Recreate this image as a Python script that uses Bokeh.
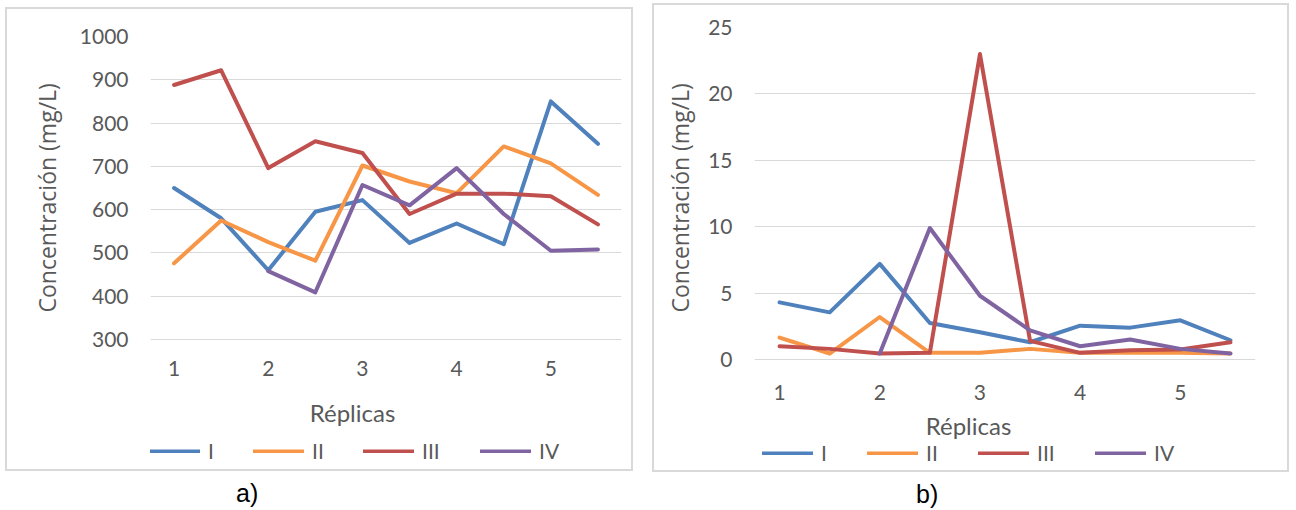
import math
from bokeh.plotting import figure
from bokeh.models import (ColumnDataSource, Legend, LegendItem, Div, Spacer,
                          FixedTicker, Range1d, Title, Label)
from bokeh.layouts import row, column
from bokeh.embed import file_html
from bokeh.resources import INLINE

nan = float("nan")

# ---------------- data ----------------
replicas = [1, 1.5, 2, 2.5, 3, 3.5, 4, 4.5, 5, 5.5]
x_ticks = [1, 2, 3, 4, 5]
x_tick_labels = ["1", "2", "3", "4", "5"]
series_names = ["I", "II", "III", "IV"]
colors = ["#4F81BD", "#F79646", "#C0504D", "#8064A2"]

a_I = [650, 580, 460, 595, 622, 523, 568, 520, 850, 752]
a_II = [476, 575, 525, 482, 702, 665, 638, 746, 707, 634]
a_III = [888, 922, 696, 758, 731, 590, 637, 637, 631, 566]
a_IV = [nan, nan, 458, 409, 657, 610, 696, 590, 505, 508]
a_yticks = [300, 400, 500, 600, 700, 800, 900, 1000]

b_I = [4.3, 3.55, 7.2, 2.75, 2.05, 1.3, 2.55, 2.4, 2.95, 1.45]
b_II = [1.65, 0.45, 3.2, 0.5, 0.5, 0.8, 0.5, 0.5, 0.5, 0.45]
b_III = [1.0, 0.8, 0.45, 0.5, 23.0, 1.4, 0.5, 0.7, 0.75, 1.3]
b_IV = [nan, nan, 0.45, 9.9, 4.8, 2.2, 1.0, 1.5, 0.8, 0.45]
b_yticks = [0, 5, 10, 15, 20, 25]

x_title = "Réplicas"
y_title = "Concentración (mg/L)"
captions = ["a)", "b)"]

TEXT = "#595959"
GRID = "#d9d9d9"
BORDER = 2


def make_chart(width, height, origin, frame_lr, top_px, bot_px, frame_bot_px,
               yticks, series, xtick_standoff, xtitle_px, ytitle_bottom_px,
               ytitle_standoff, legend_starts):
    ox, oy = origin[0] + BORDER, origin[1] + BORDER
    fl, fr = frame_lr
    mbl = fl - ox
    mbr = width - (fr - ox)
    mbt = top_px - oy
    mbb = height - (frame_bot_px - oy)
    ymin_t, ymax_t = yticks[0], yticks[-1]
    per_px = (ymax_t - ymin_t) / (bot_px - top_px)
    ymin = ymin_t - (frame_bot_px - bot_px) * per_px
    x0, x1 = 0.75, 5.75

    def px_x(px):
        return x0 + (px - fl) * (x1 - x0) / (fr - fl)

    def px_y(py):
        return ymin_t - (py - bot_px) * per_px

    p = figure(width=width, height=height, output_backend="svg",
               toolbar_location=None,
               x_range=Range1d(x0, x1), y_range=Range1d(ymin, ymax_t),
               min_border_left=mbl, min_border_right=mbr,
               min_border_top=mbt, min_border_bottom=mbb,
               styles={"border": "2px solid #d9d9d9",
                       "box-sizing": "border-box"})
    p.border_fill_color = None
    p.background_fill_color = None
    p.outline_line_color = None
    p.xgrid.grid_line_color = None
    p.ygrid.grid_line_color = GRID
    p.ygrid.grid_line_width = 1

    p.xaxis.ticker = FixedTicker(ticks=x_ticks)
    p.xaxis.major_label_overrides = {t: l for t, l in zip(x_ticks, x_tick_labels)}
    p.xaxis.fixed_location = ymin_t
    p.yaxis.ticker = FixedTicker(ticks=yticks)
    for ax in (p.xaxis, p.yaxis):
        ax.axis_line_color = None
        ax.major_tick_line_color = None
        ax.minor_tick_line_color = None
        ax.major_tick_out = 0
        ax.major_tick_in = 0
        ax.minor_tick_out = 0
        ax.major_label_text_color = TEXT
        ax.major_label_text_font = "Lato"
        ax.major_label_text_font_size = "21px"
    p.yaxis.major_label_standoff = 22
    p.xaxis.major_label_standoff = xtick_standoff

    # y axis title (vertical), placed in the left panel beside the axis
    p.add_layout(Title(text=y_title, align="left", vertical_align="top",
                       offset=frame_bot_px - ytitle_bottom_px,
                       standoff=ytitle_standoff, text_font="Open Sans",
                       text_font_size="23px", text_font_style="normal",
                       text_color=TEXT), "left")

    # x axis title
    p.add_layout(Label(x=px_x(xtitle_px[0]), y=px_y(xtitle_px[1]),
                       text=x_title, text_align="center",
                       text_baseline="middle", text_font="Lato",
                       text_font_size="24px", text_color=TEXT))

    src = ColumnDataSource(dict(x=replicas, **{n: v for n, v in zip(series_names, series)}))
    for name, col, start in zip(series_names, colors, legend_starts):
        r = p.line("x", name, source=src, line_width=4, line_color=col,
                   line_join="round", line_cap="round")
        leg = Legend(items=[LegendItem(label=name, renderers=[r])],
                     location=(start - 1 - fl, 0),
                     glyph_width=51, glyph_height=4, label_standoff=8,
                     padding=0, margin=0, border_line_color=None,
                     background_fill_alpha=0, label_text_font="Lato",
                     label_text_font_size="21px", label_text_color=TEXT)
        p.add_layout(leg, "center")
    return p


def make_caption(width, height, pad_left, pad_top, text):
    html = (f'<div style="padding-left:{pad_left}px;padding-top:{pad_top}px;'
            "font-family:'Liberation Sans',Arial,sans-serif;font-size:25px;"
            f'line-height:29px;color:#000000;white-space:nowrap">{text}</div>')
    return Div(text=html, width=width, height=height, margin=(0, 0, 0, 0))


pa = make_chart(628, 464, (5, 7), (150, 621), 36, 339, 463,
                a_yticks, [a_I, a_II, a_III, a_IV], 21, (352, 412), 312, 24,
                [150, 254, 364, 481])
pb = make_chart(637, 469, (652, 3), (754, 1255), 27, 359, 465,
                b_yticks, [b_I, b_II, b_III, b_IV], 25, (968, 425), 312, 16,
                [763, 868, 979, 1096])

ca = make_caption(628, 38, 231, 8, captions[0])
cb = make_caption(637, 37, 264, 8, captions[1])

col_a = column(Spacer(width=628, height=7), pa, ca)
col_b = column(Spacer(width=637, height=3), pb, cb)
layout = row(Spacer(width=5, height=500), col_a,
             Spacer(width=19, height=500), col_b)

open("out.html", "w").write(file_html(layout, INLINE))
